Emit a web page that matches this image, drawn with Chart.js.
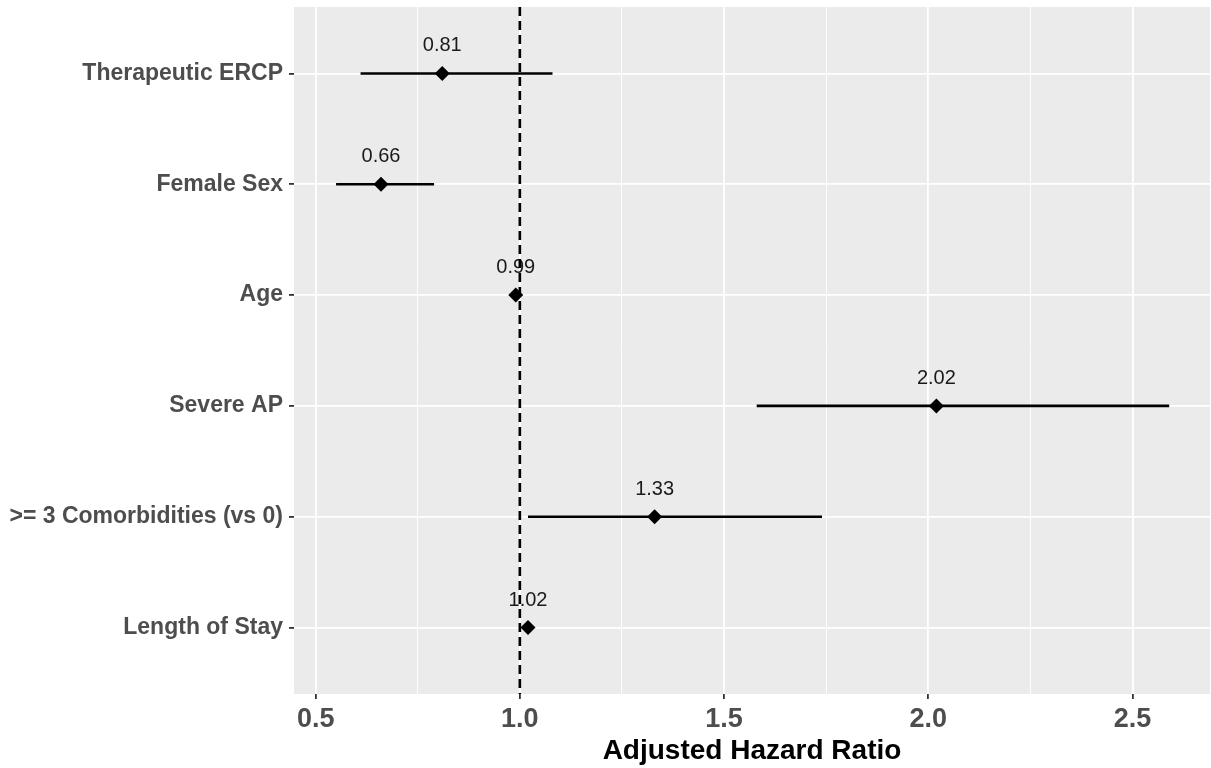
<!DOCTYPE html>
<html>
<head>
<meta charset="utf-8">
<script src="https://cdn.jsdelivr.net/npm/chart.js@4"></script>
<style>
  html, body { margin: 0; padding: 0; background: #fff; overflow: hidden; }
  #wrap { width: 1211px; height: 768px; }
</style>
</head>
<body>
<div id="wrap"><canvas id="forest"></canvas></div>
<script>
// datos (de arriba hacia abajo)
var categorias = ['Therapeutic ERCP', 'Female Sex', 'Age', 'Severe AP', '>= 3 Comorbidities (vs 0)', 'Length of Stay'];
var hr      = [0.81, 0.66, 0.99, 2.02, 1.33, 1.02];
var ciBajo  = [0.61, 0.55, 0.98, 1.58, 1.02, 1.01];
var ciAlto  = [1.08, 0.79, 1.00, 2.59, 1.74, 1.03];
var xTicks  = [0.5, 1.0, 1.5, 2.0, 2.5];
var lineaRef = 1;

var n = categorias.length;
function filaY(i) { return n - i; }

var datasets = [];
categorias.forEach(function(cat, i) {
    datasets.push({
        type: 'line',
        data: [{x: ciBajo[i], y: filaY(i)}, {x: ciAlto[i], y: filaY(i)}],
        borderColor: '#000',
        borderWidth: 2.6,
        pointRadius: 0,
        fill: false
    });
});
datasets.push({
    type: 'scatter',
    data: hr.map(function(v, i) { return {x: v, y: filaY(i)}; }),
    pointStyle: 'rectRot',
    pointRadius: 7.5,
    pointBackgroundColor: '#000',
    pointBorderColor: '#000',
    pointBorderWidth: 0
});

var fondoPanel = {
    id: 'fondoPanel',
    beforeDraw: function(chart) {
        var a = chart.chartArea, ctx = chart.ctx;
        ctx.save();
        ctx.fillStyle = '#EBEBEB';
        ctx.fillRect(a.left, a.top, a.right - a.left, a.bottom - a.top);
        ctx.restore();
    }
};

var etiquetasYRef = {
    id: 'etiquetasYRef',
    afterDatasetsDraw: function(chart) {
        var ctx = chart.ctx, sx = chart.scales.x, sy = chart.scales.y, a = chart.chartArea;
        ctx.save();
        ctx.font = '20px "Liberation Sans", Arial, sans-serif';
        ctx.fillStyle = '#1a1a1a';
        ctx.textAlign = 'center';
        ctx.textBaseline = 'alphabetic';
        hr.forEach(function(v, i) {
            ctx.fillText(v.toFixed(2), sx.getPixelForValue(v), sy.getPixelForValue(filaY(i)) - 22);
        });
        // linea discontinua en HR = 1
        var px = sx.getPixelForValue(lineaRef);
        ctx.strokeStyle = '#000';
        ctx.lineWidth = 2.6;
        ctx.setLineDash([9, 5]);
        ctx.beginPath();
        ctx.moveTo(px, a.top);
        ctx.lineTo(px, a.bottom);
        ctx.stroke();
        ctx.restore();
    }
};

function esMayor(v) {
    return xTicks.some(function(t) { return Math.abs(t - v) < 1e-6; });
}

new Chart(document.getElementById('forest'), {
    data: { datasets: datasets },
    options: {
        responsive: true,
        maintainAspectRatio: false,
        animation: false,
        layout: { autoPadding: false, padding: { top: 7, right: 1, left: 0, bottom: 0 } },
        plugins: { legend: { display: false }, tooltip: { enabled: false } },
        scales: {
            x: {
                type: 'linear',
                min: 0.447,
                max: 2.69,
                afterBuildTicks: function(scale) {
                    var t = [];
                    for (var v = 0.5; v <= 2.5001; v += 0.25) t.push({value: Math.round(v * 100) / 100});
                    scale.ticks = t;
                },
                afterFit: function(scale) {
                    scale.height = 74;
                    scale.paddingLeft = 0;
                    scale.paddingRight = 0;
                },
                border: { display: false },
                grid: {
                    color: '#FFFFFF',
                    lineWidth: function(c) { return esMayor(c.tick.value) ? 1.8 : 0.9; },
                    tickColor: function(c) { return esMayor(c.tick.value) ? '#333333' : 'rgba(0,0,0,0)'; },
                    tickLength: 5,
                    drawTicks: true
                },
                ticks: {
                    padding: 4,
                    color: '#4D4D4D',
                    font: { family: '"Liberation Sans", Arial, sans-serif', size: 27, weight: 'bold' },
                    maxRotation: 0,
                    autoSkip: false,
                    callback: function(v) { return esMayor(v) ? v.toFixed(1) : ''; }
                },
                title: {
                    display: true,
                    text: 'Adjusted Hazard Ratio',
                    color: '#000',
                    padding: { top: 4, bottom: 0 },
                    font: { family: '"Liberation Sans", Arial, sans-serif', size: 28, weight: 'bold' }
                }
            },
            y: {
                type: 'linear',
                min: 0.4,
                max: n + 0.6,
                afterBuildTicks: function(scale) {
                    scale.ticks = categorias.map(function(c, i) { return {value: filaY(i)}; });
                },
                afterFit: function(scale) {
                    scale.width = 294;
                    scale.paddingTop = 0;
                    scale.paddingBottom = 0;
                },
                border: { display: false },
                grid: {
                    color: '#FFFFFF',
                    lineWidth: 1.8,
                    tickColor: '#333333',
                    tickLength: 5
                },
                ticks: {
                    padding: 6,
                    color: '#4D4D4D',
                    font: { family: '"Liberation Sans", Arial, sans-serif', size: 23, weight: 'bold' },
                    autoSkip: false,
                    callback: function(v) { return categorias[n - v]; }
                }
            }
        }
    },
    plugins: [fondoPanel, etiquetasYRef]
});
</script>
</body>
</html>
